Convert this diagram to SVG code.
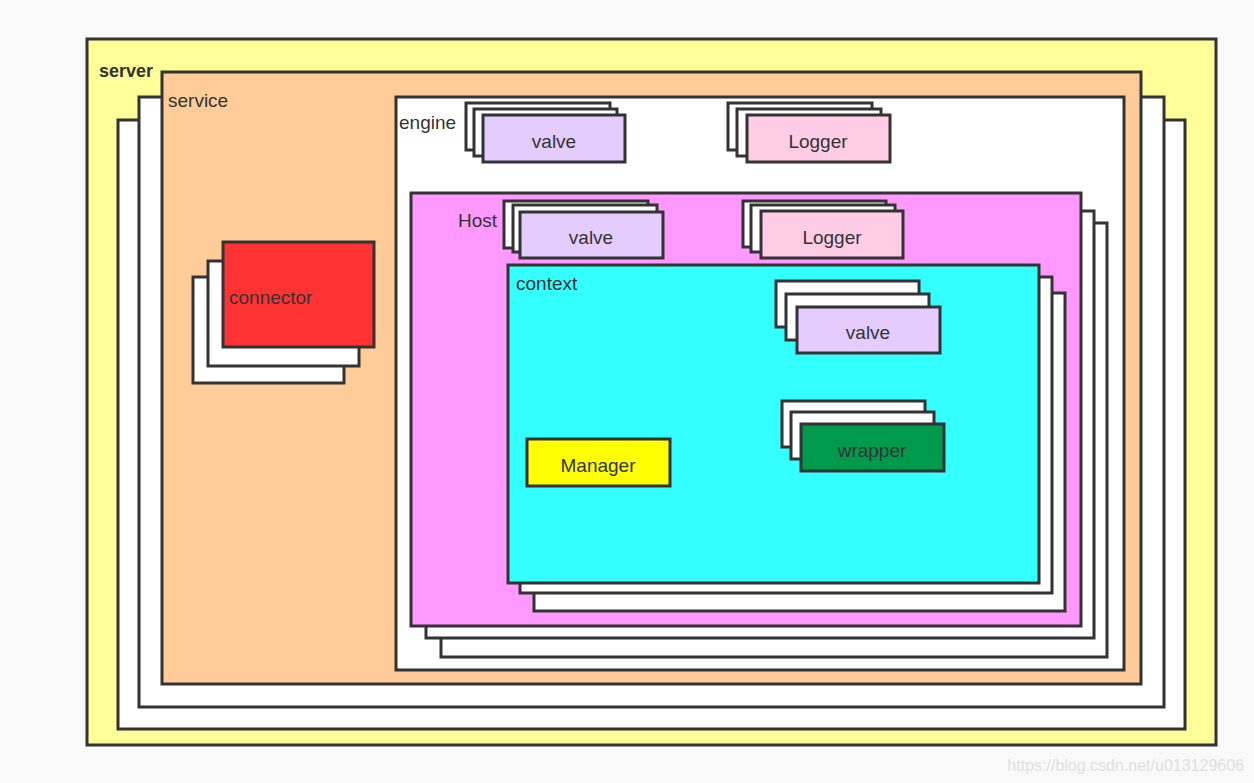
<svg xmlns="http://www.w3.org/2000/svg" width="1254" height="783" viewBox="0 0 1254 783">
<style>
  rect { stroke: #333; stroke-width: 3; }
  .w { fill: #ffffff; }
  text { font-family: "Liberation Sans", Arial, sans-serif; font-size: 19px; fill: #333; }
  .c { text-anchor: middle; }
  .valve { fill: #e5ccff; }
  .logger { fill: #ffcce6; }
</style>
<rect x="0" y="0" width="1254" height="783" fill="#f9f9f9" style="stroke:none"/>
<g id="server">
  <rect x="87" y="39" width="1129" height="706" fill="#ffff99"/>
  <text x="99" y="77" style="font-weight:bold;font-size:18px">server</text>
</g>
<g id="service">
  <rect class="w" x="118" y="120" width="1067" height="609"/>
  <rect class="w" x="139" y="97" width="1025" height="610"/>
  <rect x="162" y="72" width="979" height="612" fill="#ffcc99"/>
  <text x="168" y="107">service</text>
</g>
<g id="engine">
  <rect class="w" x="396" y="97" width="728" height="573"/>
  <text x="399" y="129">engine</text>
</g>
<g id="engine-valve">
  <rect class="w" x="466" y="103" width="144" height="47"/>
  <rect class="w" x="474" y="109" width="143" height="47"/>
  <rect class="valve" x="483" y="115" width="142" height="47"/>
  <text class="c" x="554" y="148">valve</text>
</g>
<g id="engine-logger">
  <rect class="w" x="728" y="103" width="144" height="47"/>
  <rect class="w" x="737" y="109" width="144" height="47"/>
  <rect class="logger" x="747" y="115" width="143" height="47"/>
  <text class="c" x="818" y="148">Logger</text>
</g>
<g id="host">
  <rect class="w" x="441" y="223" width="666" height="434"/>
  <rect class="w" x="426" y="211" width="668" height="427"/>
  <rect x="411" y="193" width="670" height="433" fill="#ff99ff"/>
  <text x="458" y="227">Host</text>
</g>
<g id="host-valve">
  <rect class="w" x="504" y="201" width="144" height="47"/>
  <rect class="w" x="513" y="205" width="144" height="47"/>
  <rect class="valve" x="520" y="212" width="143" height="46"/>
  <text class="c" x="591" y="244">valve</text>
</g>
<g id="host-logger">
  <rect class="w" x="743" y="201" width="143" height="46"/>
  <rect class="w" x="751" y="205" width="144" height="47"/>
  <rect class="logger" x="761" y="211" width="142" height="47"/>
  <text class="c" x="832" y="244">Logger</text>
</g>
<g id="context">
  <rect class="w" x="534" y="293" width="531" height="318"/>
  <rect class="w" x="520" y="277" width="532" height="316"/>
  <rect x="508" y="265" width="531" height="318" fill="#33ffff"/>
  <text x="516" y="290">context</text>
</g>
<g id="context-valve">
  <rect class="w" x="776" y="281" width="143" height="46"/>
  <rect class="w" x="786" y="294" width="143" height="46"/>
  <rect class="valve" x="797" y="307" width="143" height="46"/>
  <text class="c" x="868" y="339">valve</text>
</g>
<g id="wrapper">
  <rect class="w" x="782" y="401" width="143" height="46"/>
  <rect class="w" x="791" y="412" width="143" height="47"/>
  <rect x="801" y="424" width="143" height="47" fill="#009a4c"/>
  <text class="c" x="872" y="457">wrapper</text>
</g>
<g id="manager">
  <rect x="527" y="439" width="143" height="47" fill="#ffff00"/>
  <text class="c" x="598" y="472">Manager</text>
</g>
<g id="connector">
  <rect class="w" x="193" y="277" width="151" height="106"/>
  <rect class="w" x="208" y="261" width="151" height="105"/>
  <rect x="223" y="242" width="151" height="105" fill="#ff3333"/>
  <text x="229" y="304">connector</text>
</g>
<g id="connectors"></g>
<text x="1244" y="771" style="text-anchor:end;font-size:16px;fill:#e0e0e0">https://blog.csdn.net/u013129606</text>
</svg>
